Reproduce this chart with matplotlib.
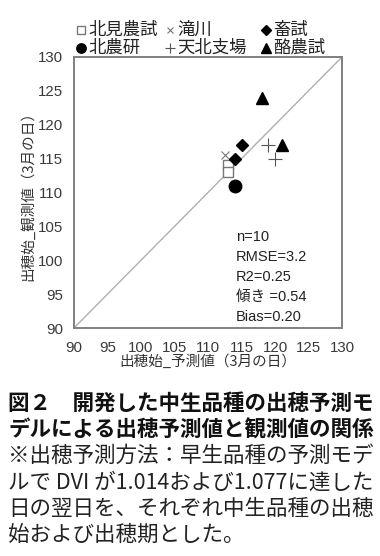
import matplotlib
matplotlib.use('Agg')
import matplotlib.pyplot as plt
from matplotlib.lines import Line2D

plt.rcParams['font.family'] = ['Noto Sans CJK JP', 'DejaVu Sans']
latin = ['Liberation Sans', 'Noto Sans CJK JP']

# 出穂始 予測値 / 観測値 (3月の日)
sites = ['北見農試', '北農研', '滝川', '天北支場', '畜試', '酪農試']
pred = {
	'北見農試': [113, 113],
	'北農研': [114],
	'滝川': [112.5],
	'天北支場': [119, 120],
	'畜試': [115, 114],
	'酪農試': [118, 121],
}
obs = {
	'北見農試': [114, 113],
	'北農研': [111],
	'滝川': [115.5],
	'天北支場': [117, 115],
	'畜試': [117, 115],
	'酪農試': [124, 117],
}
styles = {
	'北見農試': dict(marker='s', mfc='white', mec='#777777', ms=7.5, mew=1.0),
	'北農研': dict(marker='o', mfc='black', mec='black', ms=9),
	'滝川': dict(marker='x', mfc='none', mec='#777777', ms=6, mew=0.8),
	'天北支場': dict(marker='+', mfc='none', mec='#555555', ms=10, mew=0.8),
	'畜試': dict(marker='D', mfc='black', mec='black', ms=6.5),
	'酪農試': dict(marker='^', mfc='black', mec='black', ms=9),
}
ticks = [90, 95, 100, 105, 110, 115, 120, 125, 130]
stats = ['n=10', 'RMSE=3.2', 'R2=0.25', '傾き =0.54', 'Bias=0.20']

caption_bold = ['図２　開発した中生品種の出穂予測モ',
				'デルによる出穂予測値と観測値の関係']
caption = ['※出穂予測方法：早生品種の予測モデ',
		   'ルで DVI が1.014および1.077に達した',
		   '日の翌日を、それぞれ中生品種の出穂',
		   '始および出穂期とした。']

W, H = 380, 556
fig = plt.figure(figsize=(W / 100, H / 100), dpi=100)
ax = fig.add_axes([74 / W, 1 - 328 / H, (342 - 74) / W, (328 - 57) / H])

ax.plot([90, 130], [90, 130], color='#b0b0b0', lw=1.0, zorder=1)
for s in sites:
	ax.plot(pred[s], obs[s], ls='none', zorder=3, **styles[s])

ax.set_xlim(90, 130)
ax.set_ylim(90, 130)
ax.set_xticks(ticks)
ax.set_yticks(ticks)
ax.tick_params(length=0, labelsize=10.8, labelcolor='#3a3a3a')
ax.tick_params(axis='x', pad=9)
ax.tick_params(axis='y', pad=8)
for lab in ax.get_xticklabels() + ax.get_yticklabels():
	lab.set_family(latin)
for sp in ax.spines.values():
	sp.set_color('#808080')
	sp.set_linewidth(1.4)
ax.set_xlabel('出穂始_予測値（3月の日）', fontsize=10.5, color='#333333', labelpad=0)
ax.set_ylabel('出穂始_観測値（3月の日）', fontsize=10.5, color='#333333', labelpad=2)

for i, t in enumerate(stats):
	ax.text(0.605, 0.335 - i * 0.074, t, transform=ax.transAxes, fontsize=10.5,
			family=latin, color='#222222', va='center', ha='left')

# legend laid out by hand, two rows above the plot
leg_x = [81, 170, 266]
leg_y = [30, 48]
leg_order = ['北見農試', '滝川', '畜試', '北農研', '天北支場', '酪農試']
for k, s in enumerate(leg_order):
	cx = leg_x[k % 3]
	cy = leg_y[k // 3]
	st = dict(styles[s])
	st['ms'] = st['ms'] * 0.75
	fig.add_artist(Line2D([cx / W], [1 - cy / H], ls='none', transform=fig.transFigure, **st))
	fig.text((cx + 7) / W, 1 - cy / H, s, fontsize=12.5, color='#222222',
			 va='center', ha='left')

for i, t in enumerate(caption_bold):
	fig.text(8 / W, 1 - (403 + i * 26.5) / H, t, fontsize=15.5, fontweight='bold',
			 color='#111111', va='center', ha='left')
for i, t in enumerate(caption):
	fig.text(8 / W, 1 - (456 + i * 26.3) / H, t, fontsize=15.5,
			 color='#222222', va='center', ha='left')

fig.savefig('out.png', dpi=100)
